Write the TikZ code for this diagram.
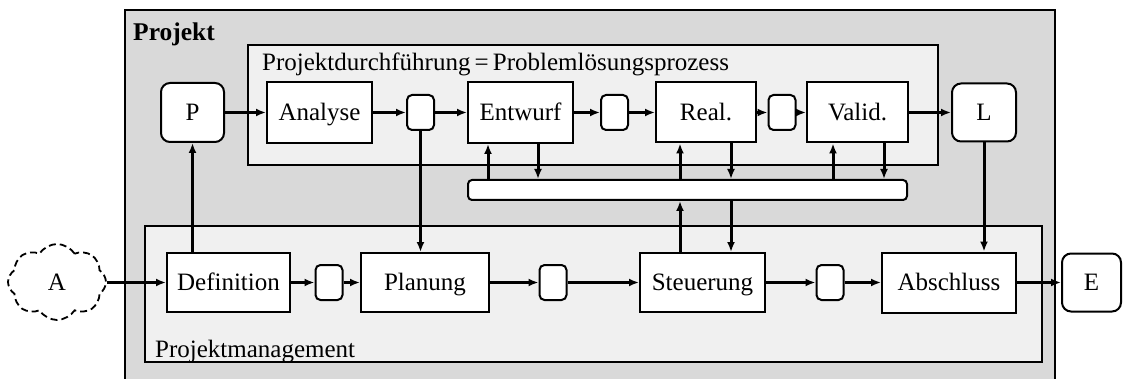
\documentclass[tikz,border=0pt]{standalone}
\usepackage{fontspec}
\setmainfont{Liberation Serif}
\usetikzlibrary{arrows.meta,shapes.symbols}
\definecolor{outerbg}{HTML}{D9D9D9}
\definecolor{innerbg}{HTML}{F0F0F0}
\tikzset{
  blk/.style={draw, line width=2pt, fill=white, inner sep=0pt,
    text height=16.5pt, text depth=0pt,
    font=\fontsize{25}{29}\selectfont},
  rnd/.style={blk, rounded corners=9pt},
  sm/.style={draw, line width=2pt, fill=white, rounded corners=5pt,
    minimum width=27pt, minimum height=35pt, inner sep=0pt},
  arr/.style={line width=3pt, -{Latex[length=10pt,width=8pt]}},
  lbl/.style={inner sep=0pt, font=\fontsize{25}{29}\selectfont},
  area/.style={draw, line width=2pt},
}
\begin{document}
\begin{tikzpicture}[x=1pt,y=-1pt]
\path[use as bounding box, clip] (0,0) rectangle (1123,379);
\fill[white] (0,0) rectangle (1123,379);

% outer project frame
\draw[area, fill=outerbg] (125,10) rectangle (1055,390);
\node[lbl, anchor=base west, font=\fontsize{25.5}{29}\selectfont\bfseries] (tproj) at (133,41) {Projekt};

% problem solving process area
\draw[area, fill=innerbg] (248,45) rectangle (938,165);
\node[lbl, anchor=base west] (tpd) at (262,71) {Projektdurchführung\,=\,Problemlösungsprozess};

% project management area
\draw[area, fill=innerbg] (145,226) rectangle (1042,362);
\node[lbl, anchor=base west] (tpm) at (155,357) {Projektmanagement};

% upper row
\node[rnd, minimum width=63pt, minimum height=59pt] (P) at (192.5,112.5) {P};
\node[blk, minimum width=105pt, minimum height=61pt] (ana) at (319.5,112.5) {Analyse};
\node[sm] (s1) at (420.5,112.5) {};
\node[blk, minimum width=105pt, minimum height=61pt] (ent) at (520.5,112.5) {Entwurf};
\node[sm] (s2) at (614.5,112.5) {};
\node[blk, minimum width=100pt, minimum height=60pt] (rea) at (706,112.5) {Real.};
\node[sm] (s3) at (782,112.5) {};
\node[blk, minimum width=101pt, minimum height=60pt] (val) at (857.5,112.5) {Valid.};
\node[rnd, minimum width=64pt, minimum height=58pt] (L) at (984,112.5) {L};

% shared bar
\node[draw, line width=2pt, fill=white, rounded corners=4pt, inner sep=0pt,
  minimum width=439pt, minimum height=20pt] (bar) at (687.5,190) {};

% lower row
\node[draw, line width=1.8pt, dash pattern=on 7pt off 4pt, cloud, cloud puffs=8,
  cloud puff arc=115, aspect=1.3, minimum width=98pt, minimum height=76pt,
  inner sep=0pt, text height=16.5pt, text depth=0pt,
  font=\fontsize{25}{29}\selectfont] (A) at (57,282) {A};
\node[blk, minimum width=123pt, minimum height=59pt] (def) at (228.5,282.5) {Definition};
\node[sm] (s4) at (329,282.5) {};
\node[blk, minimum width=128pt, minimum height=59pt] (pla) at (425,282.5) {Planung};
\node[sm] (s5) at (553,282.5) {};
\node[blk, minimum width=125pt, minimum height=59pt] (ste) at (702.5,282.5) {Steuerung};
\node[sm] (s6) at (830,282.5) {};
\node[blk, minimum width=134pt, minimum height=60pt] (abs) at (949,282.5) {Abschluss};
\node[rnd, minimum width=59pt, minimum height=58pt] (E) at (1091.5,282.5) {E};

% columns of the vertical links
\coordinate (xe1) at (488,0);
\coordinate (xe2) at (538,0);
\coordinate (xr1) at (680,0);
\coordinate (xr2) at (731,0);
\coordinate (xv1) at (833,0);
\coordinate (xv2) at (884,0);

% horizontal flow, upper row
\draw[arr] (P) -- (ana);
\draw[arr] (ana) -- (s1);
\draw[arr] (s1) -- (ent);
\draw[arr] (ent) -- (s2);
\draw[arr] (s2) -- (rea);
\draw[arr] (rea) -- (s3);
\draw[arr] (s3) -- (val);
\draw[arr] (val) -- (L);

% horizontal flow, lower row
\draw[arr] (A.east |- def.west) -- (def.west);
\draw[arr] (def) -- (s4);
\draw[arr] (s4) -- (pla);
\draw[arr] (pla) -- (s5);
\draw[arr] (s5) -- (ste);
\draw[arr] (ste) -- (s6);
\draw[arr] (s6) -- (abs);
\draw[arr] (abs) -- (E);

% vertical links
\draw[arr] (def.north -| P.south) -- (P.south);
\draw[arr] (s1.south) -- (pla.north -| s1.south);
\draw[arr] (L.south) -- (abs.north -| L.south);
\draw[arr] (bar.north -| xe1) -- (ent.south -| xe1);
\draw[arr] (ent.south -| xe2) -- (bar.north -| xe2);
\draw[arr] (bar.north -| xr1) -- (rea.south -| xr1);
\draw[arr] (rea.south -| xr2) -- (bar.north -| xr2);
\draw[arr] (bar.north -| xv1) -- (val.south -| xv1);
\draw[arr] (val.south -| xv2) -- (bar.north -| xv2);
\draw[arr] (ste.north -| xr1) -- (bar.south -| xr1);
\draw[arr] (bar.south -| xr2) -- (ste.north -| xr2);
\end{tikzpicture}
\end{document}
